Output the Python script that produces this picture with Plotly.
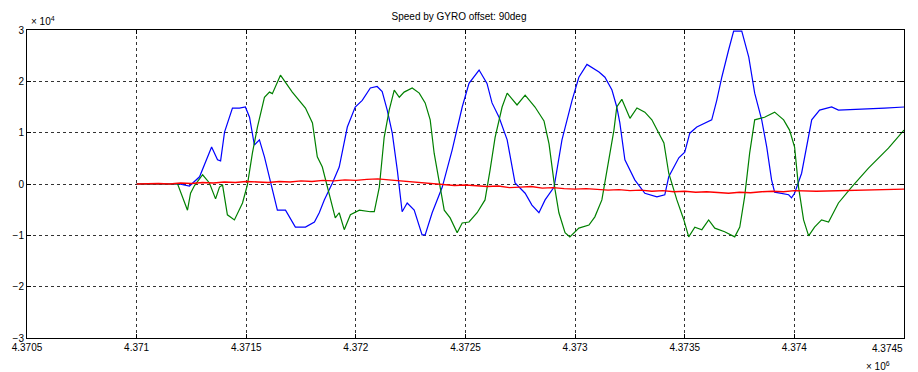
import plotly.graph_objects as go

# Sample index (time stamp) and the three speed components
x_blue = [4371000, 4371195, 4371241, 4371287, 4371342, 4371369, 4371383, 4371401, 4371437, 4371469,
          4371496, 4371515, 4371537, 4371560, 4371583, 4371606, 4371642, 4371679, 4371724, 4371770,
          4371811, 4371833, 4371856, 4371893, 4371924, 4371961, 4371997, 4372029, 4372066, 4372097,
          4372120, 4372143, 4372166, 4372189, 4372211, 4372234, 4372266, 4372302, 4372316, 4372348,
          4372394, 4372439, 4372485, 4372516, 4372562, 4372598, 4372621, 4372653, 4372690, 4372726,
          4372772, 4372803, 4372835, 4372863, 4372904, 4372940, 4372986, 4373017, 4373054, 4373109,
          4373136, 4373168, 4373190, 4373204, 4373227, 4373272, 4373318, 4373373, 4373409, 4373427,
          4373473, 4373500, 4373523, 4373555, 4373623, 4373646, 4373669, 4373700, 4373723, 4373760,
          4373792, 4373819, 4373851, 4373874, 4373896, 4373910, 4373974, 4373987, 4374001, 4374033,
          4374056, 4374079, 4374115, 4374170, 4374201, 4374338, 4374411, 4374500]
y_blue = [0, 0, -400, 1400, 7200, 4700, 4500, 10100, 14800, 14800,
          15000, 13000, 7600, 8600, 5300, 1400, -5100, -5100, -8400, -8400,
          -7400, -5600, -3100, 200, 3300, 11100, 15000, 16300, 18700, 19000,
          18000, 14400, 9900, 2700, -5400, -3700, -5100, -9900, -9900, -5600,
          -600, 6600, 15000, 19600, 22200, 19600, 15800, 13000, 8600, 200,
          -1800, -4100, -5600, -3100, -600, 8600, 16300, 20800, 23300, 21800,
          20800, 18300, 15000, 11900, 4700, 800, -1800, -2500, -2100, 1400,
          5100, 6200, 9900, 11100, 12500, 16300, 20800, 26100, 29800, 29800,
          24700, 17700, 12500, 7200, 800, -1600, -2100, -2700, -1800, 2100,
          7200, 12500, 14400, 15000, 14400, 14600, 14800, 15000]

x_green = [4371000, 4371187, 4371232, 4371246, 4371264, 4371301, 4371332, 4371360, 4371378, 4371392,
           4371414, 4371446, 4371483, 4371505, 4371528, 4371551, 4371583, 4371606, 4371619, 4371656,
           4371710, 4371770, 4371802, 4371824, 4371847, 4371879, 4371906, 4371924, 4371947, 4371975,
           4372016, 4372066, 4372084, 4372107, 4372129, 4372152, 4372175, 4372198, 4372220, 4372257,
           4372289, 4372316, 4372339, 4372357, 4372380, 4372403, 4372430, 4372462, 4372485, 4372516,
           4372553, 4372589, 4372612, 4372635, 4372667, 4372690, 4372735, 4372772, 4372817, 4372858,
           4372881, 4372908, 4372926, 4372954, 4372976, 4373017, 4373063, 4373090, 4373122, 4373154,
           4373177, 4373190, 4373213, 4373250, 4373282, 4373318, 4373350, 4373405, 4373427, 4373464,
           4373496, 4373518, 4373546, 4373578, 4373609, 4373637, 4373682, 4373728, 4373751, 4373773,
           4373796, 4373819, 4373864, 4373910, 4373951, 4373978, 4374001, 4374019, 4374042, 4374065,
           4374092, 4374124, 4374156, 4374201, 4374261, 4374338, 4374429, 4374500]
y_green = [0, 0, -5100, -1800, -300, 1800, 200, -2900, -600, -200,
           -6000, -7000, -3700, -200, 6000, 11100, 16900, 17900, 17600, 21200,
           17900, 14800, 11900, 5300, 3300, -1800, -6600, -5600, -8900, -6000,
           -5100, -5400, -5400, -600, 9100, 14400, 18300, 16900, 17900, 18700,
           17700, 15800, 12500, 6000, 800, -5100, -6600, -9500, -7600, -7400,
           -5600, -3100, 2700, 9100, 15000, 17700, 15400, 17300, 15000, 12300,
           7800, -1000, -5600, -9500, -10300, -8600, -8000, -6400, -3100, 5300,
           10500, 15000, 16500, 12800, 14800, 14000, 12500, 8000, 2100, -3100,
           -7000, -10300, -8400, -8900, -7000, -8600, -9300, -10300, -8400, -2500,
           6000, 12500, 13000, 14000, 12500, 10500, 7200, -600, -7000, -10100,
           -8400, -7000, -7400, -3700, -600, 3100, 7000, 10500]

x_red = [4371000, 4371100, 4371150, 4371200, 4371250, 4371300, 4371350, 4371400, 4371450, 4371500,
         4371550, 4371600, 4371650, 4371700, 4371750, 4371800, 4371850, 4371900, 4371950, 4372000,
         4372050, 4372100, 4372150, 4372200, 4372250, 4372300, 4372350, 4372400, 4372450, 4372500,
         4372550, 4372600, 4372650, 4372700, 4372750, 4372800, 4372850, 4372900, 4372950, 4373000,
         4373050, 4373100, 4373150, 4373200, 4373250, 4373300, 4373350, 4373400, 4373450, 4373500,
         4373550, 4373600, 4373650, 4373700, 4373750, 4373800, 4373850, 4373900, 4373950, 4374000,
         4374100, 4374200, 4374300, 4374400, 4374500]
y_red = [0, 100, 0, 200, 100, 300, 200, 400, 300, 500,
         400, 300, 500, 400, 600, 500, 700, 600, 800, 700,
         900, 1000, 800, 600, 400, 200, 100, -100, -300, -200,
         -400, -500, -400, -700, -600, -500, -800, -700, -900, -1000,
         -900, -1100, -1200, -1100, -1300, -1200, -1400, -1300, -1500, -1400,
         -1600, -1500, -1700, -1800, -1600, -1700, -1500, -1400, -1500, -1300,
         -1400, -1300, -1200, -1100, -1000]

x_ticks = [4370500, 4371000, 4371500, 4372000, 4372500, 4373000, 4373500, 4374000, 4374500]
x_tick_text = ["4.3705", "4.371", "4.3715", "4.372", "4.3725", "4.373", "4.3735", "4.374", "4.3745"]
y_ticks = [-30000, -20000, -10000, 0, 10000, 20000, 30000]
y_tick_text = ["\u22123", "\u22122", "\u22121", "0", "1", "2", "3"]

fig = go.Figure()
fig.add_trace(go.Scatter(x=x_blue, y=y_blue, mode="lines",
                         line=dict(color="#0000ff", width=1.2), name="Vx"))
fig.add_trace(go.Scatter(x=x_green, y=y_green, mode="lines",
                         line=dict(color="#008000", width=1.2), name="Vy"))
fig.add_trace(go.Scatter(x=x_red, y=y_red, mode="lines",
                         line=dict(color="#ff0000", width=1.4), name="Vz"))

font = dict(family="Liberation Sans, Arial, sans-serif", size=10, color="#000")
axis_common = dict(
    showline=True, linecolor="#000", linewidth=1, mirror="ticks",
    ticks="inside", ticklen=4, tickcolor="#000",
    showgrid=True, gridcolor="#333", gridwidth=1, griddash="3px,3px",
    zeroline=False, tickfont=font,
)

# The last x label would overflow the page edge, so it is placed right-aligned to the axis end
x_tick_shown = x_tick_text[:-1] + [""]

fig.update_layout(
    width=918, height=372,
    margin=dict(l=25, r=14, t=30, b=34),
    paper_bgcolor="#fff", plot_bgcolor="#fff",
    showlegend=False,
    title=dict(text="Speed by GYRO offset: 90deg", x=0.5, xanchor="center",
               y=0.955, yanchor="middle",
               font=dict(family="Liberation Sans, Arial, sans-serif", size=10, color="#000")),
    xaxis=dict(range=[4370500, 4374500], tickvals=x_ticks, ticktext=x_tick_shown, **axis_common),
    yaxis=dict(range=[-30000, 30000], tickvals=y_ticks, ticktext=y_tick_text, **axis_common),
    annotations=[
        dict(text="\u00d7 10<sup>4</sup>", xref="paper", yref="paper", x=0.0, y=1.0,
             xanchor="left", yanchor="bottom", yshift=1, xshift=2, showarrow=False, font=font),
        dict(text="\u00d7 10<sup>6</sup>", xref="paper", yref="paper", x=1.0, y=0.0,
             xanchor="right", yanchor="top", yshift=-20, xshift=-12, showarrow=False, font=font),
        dict(text=x_tick_text[-1], xref="paper", yref="paper", x=1.0, y=0.0,
             xanchor="right", yanchor="top", yshift=-3, xshift=1, showarrow=False, font=font),
    ],
)

fig.write_html("out.html")
